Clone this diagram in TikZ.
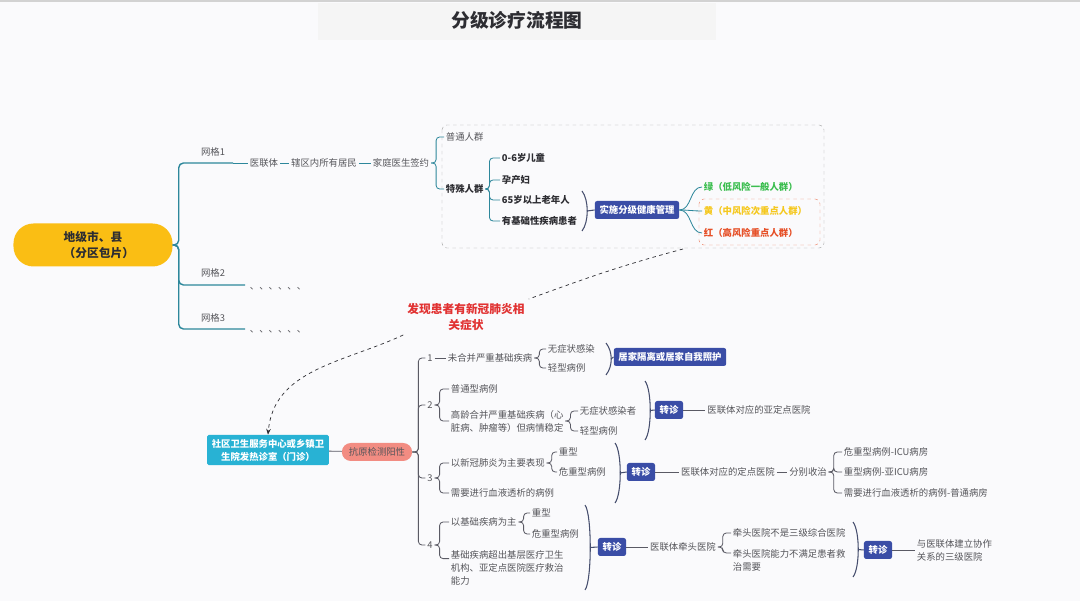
\documentclass[tikz,border=0pt]{standalone}
\usepackage{fontspec}
\setmainfont{Noto Sans CJK SC}
\usetikzlibrary{positioning,arrows.meta}
\definecolor{pagebg}{RGB}{250,250,252}
\definecolor{tealline}{RGB}{45,135,155}
\definecolor{textgray}{RGB}{85,85,90}
\definecolor{darktext}{RGB}{45,45,50}
\definecolor{linegray}{RGB}{90,90,100}
\definecolor{bracecol}{RGB}{70,78,110}
\definecolor{boxblue}{RGB}{58,77,166}
\definecolor{boxcyan}{RGB}{40,178,212}
\definecolor{boxpink}{RGB}{242,140,130}
\definecolor{rootyellow}{RGB}{250,190,20}
\definecolor{lvse}{RGB}{60,190,80}
\definecolor{huangse}{RGB}{245,200,30}
\definecolor{hongse}{RGB}{230,80,40}
\definecolor{alertred}{RGB}{225,50,50}
\newcommand{\sumbrace}[4]{\draw[bracel] (#1,#2) .. controls (#1+7,#2+9) and (#1+7,#3-9) .. (#1,#3);
					\coordinate (#4) at (#1+5,{(#2+#3)/2});}
\tikzset{
	txt/.style={font=\fontsize{8}{11}\selectfont, text=textgray, inner sep=1.5pt},
	btxt/.style={txt, text=darktext, font=\fontsize{8}{11}\selectfont\bfseries},
	lt/.style={txt, anchor=west, align=left},
	blt/.style={btxt, anchor=west, align=left},
	bluebox/.style={fill=boxblue, text=white, font=\fontsize{8}{11}\selectfont\bfseries, rounded corners=2pt, inner xsep=4pt, inner ysep=0pt, minimum height=0.54cm},
	tline/.style={draw=tealline, line width=1.2pt, rounded corners=4pt},
	tthin/.style={draw=tealline, line width=0.7pt, rounded corners=3pt},
	gline/.style={draw=linegray, line width=0.7pt, rounded corners=3pt},
	bracel/.style={draw=bracecol, line width=0.9pt},
	dline/.style={draw=darktext, line width=0.6pt, dashed}
}
\begin{document}
\begin{tikzpicture}[x=0.03cm,y=-0.03cm]
	\fill[pagebg] (0,0) rectangle (1080,601);
	\useasboundingbox (0,0) rectangle (1080,601);
	\fill[gray!35] (0,0) rectangle (1080,2);
	\fill[gray!8] (318,3) rectangle (716,40);
	\node[font=\fontsize{16}{18}\selectfont\bfseries, text=darktext] (title) at (517,20) {分级诊疗流程图};

	\node[fill=rootyellow, text=darktext, font=\fontsize{10}{14}\selectfont\bfseries, align=center, rounded corners=0.6cm, minimum width=4.77cm, minimum height=1.29cm] (root) at (93,245) {地级市、县\\\hspace{1em}（分区包片）};
	\coordinate (g1) at (233,163);
	\coordinate (g2) at (245,285);
	\coordinate (g3) at (245,329);
	\node[txt] (g1l) at (213,152) {网格1};
	\node[txt] (g2l) at (213,273) {网格2};
	\node[txt] (g3l) at (213,318) {网格3};
	\node[lt] (d2) at (248,289) {、、、、、、};
	\node[lt] (d3) at (248,332) {、、、、、、};
	\draw[tline] (root.east) -- ++(6,0) |- (g1);
	\draw[tline] (root.east) -- ++(6,0) |- (g2);
	\draw[tline] (root.east) -- ++(6,0) |- (g3);

	\draw[draw=gray!70, dashed, rounded corners=4pt] (442,125) rectangle (824,248);
	\node[txt] (ylt) at (264,163) {医联体};
	\node[txt] (xq) at (324,163) {辖区内所有居民};
	\node[txt] (qy) at (401,163) {家庭医生签约};
	\draw[tthin] (g1) -- (ylt);
	\draw[tthin] (ylt) -- (xq);
	\draw[tthin] (xq) -- (qy);
	\node[lt] (pt) at (444,137) {普通人群};
	\node[blt] (ts) at (444,189) {特殊人群};
	\draw[tthin] (qy.east) -- ++(5,0) |- (pt.west);
	\draw[tthin] (qy.east) -- ++(5,0) |- (ts.west);
	\node[blt] (c1) at (500,158) {0-6岁儿童};
	\node[blt] (c2) at (500,180) {孕产妇};
	\node[blt] (c3) at (500,200) {65岁以上老年人};
	\node[blt] (c4) at (500,221) {有基础性疾病患者};
	\foreach \c in {c1,c2,c3,c4}
		\draw[tthin] (ts.east) -- ++(4,0) |- (\c.west);
	\sumbrace{582}{191}{231}{b0}
	\node[bluebox] (ssgl) at (637,210) {实施分级健康管理};
	\draw[bracel] (b0) -- (ssgl.west);
	\node[blt, text=lvse] (lv) at (702,187) {绿（低风险一般人群）};
	\node[blt, text=huangse] (hu) at (702,211) {黄（中风险次重点人群）};
	\node[blt, text=hongse] (hong) at (702,233) {红（高风险重点人群）};
	\draw[draw=hongse!70, dashed, rounded corners=4pt] (699,199) rectangle (820,245);
	\foreach \c in {lv,hu,hong}
		\draw[tthin] (ssgl.east) to[out=0,in=180] (\c.west);

	\node[text=alertred, font=\fontsize{10}{14}\selectfont\bfseries, align=center] (fx) at (466,317) {发现患者有新冠肺炎相\\关症状};
	\coordinate (gb) at (683,249);
	\node[fill=boxcyan, text=white, font=\fontsize{8}{11}\selectfont\bfseries, align=center, rounded corners=1.5pt, inner xsep=4pt, inner ysep=3.5pt] (sq) at (268,450) {社区卫生服务中心或乡镇卫\\生院发热诊室（门诊）};
	\draw[dline] (gb) to[out=195,in=20] (fx.north east);
	\draw[dline, -{Stealth[length=5pt,width=4pt]}] (fx.south west) to[out=205,in=85] (sq.north);
	\node[fill=boxpink, text=textgray, font=\fontsize{8}{11}\selectfont, rounded corners=0.27cm, inner xsep=6pt, inner ysep=0pt, minimum height=0.54cm] (ky) at (377,452) {抗原检测阳性};
	\draw[gline] (sq) -- (ky);

	\node[txt] (n1) at (430,358) {1};
	\node[txt] (n2) at (430,405) {2};
	\node[txt] (n3) at (430,478) {3};
	\node[txt] (n4) at (430,545) {4};
	\foreach \n in {n1,n2,n3,n4}
		\draw[gline] (ky.east) -- ++(6,0) |- (\n.west);

	\node[lt] (wh) at (446,358) {未合并严重基础疾病};
	\draw[gline] (n1) -- (wh);
	\node[lt] (w1) at (546,349) {无症状感染};
	\node[lt] (q1) at (546,368) {轻型病例};
	\draw[gline] (wh.east) -- ++(5,0) |- (w1.west);
	\draw[gline] (wh.east) -- ++(5,0) |- (q1.west);
	\sumbrace{606}{343}{375}{b1}
	\node[bluebox] (jj) at (670,357) {居家隔离或居家自我照护};
	\draw[bracel] (b1) -- (jj.west);

	\node[lt] (pty) at (449,389) {普通型病例};
	\node[lt] (gl) at (449,421) {高龄合并严重基础疾病（心\\脏病、肿瘤等）但病情稳定};
	\draw[gline] (n2.east) -- ++(5,0) |- (pty.west);
	\draw[gline] (n2.east) -- ++(5,0) |- (gl.west);
	\node[lt] (w2) at (578,411) {无症状感染者};
	\node[lt] (q2) at (578,431) {轻型病例};
	\draw[gline] (gl.east) -- ++(5,0) |- (w2.west);
	\draw[gline] (gl.east) -- ++(5,0) |- (q2.west);
	\sumbrace{645}{381}{440}{b2}
	\node[bluebox] (zz2) at (669,410) {转诊};
	\draw[bracel] (b2) -- (zz2.west);
	\node[txt] (yd) at (759,410) {医联体对应的亚定点医院};
	\draw[gline] (zz2) -- (yd);

	\node[lt] (xg) at (449,463) {以新冠肺炎为主要表现};
	\node[lt] (xy) at (449,493) {需要进行血液透析的病例};
	\draw[gline] (n3.east) -- ++(5,0) |- (xg.west);
	\draw[gline] (n3.east) -- ++(5,0) |- (xy.west);
	\node[lt] (zx3) at (557,452) {重型};
	\node[lt] (wz3) at (557,472) {危重型病例};
	\draw[gline] (xg.east) -- ++(5,0) |- (zx3.west);
	\draw[gline] (xg.east) -- ++(5,0) |- (wz3.west);
	\sumbrace{615}{443}{503}{b3}
	\node[bluebox] (zz3) at (641,472) {转诊};
	\draw[bracel] (b3) -- (zz3.west);
	\node[txt] (dd) at (728,472) {医联体对应的定点医院};
	\node[txt] (fb) at (808,472) {分别收治};
	\draw[gline] (zz3) -- (dd);
	\draw[gline] (dd) -- (fb);
	\node[lt] (icu) at (842,452) {危重型病例-ICU病房};
	\node[lt] (yicu) at (842,472) {重型病例-亚ICU病房};
	\node[lt] (pt2) at (842,493) {需要进行血液透析的病例-普通病房};
	\foreach \c in {icu,yicu,pt2}
		\draw[gline] (fb.east) -- ++(5,0) |- (\c.west);

	\node[lt] (jc) at (449,522) {以基础疾病为主};
	\node[lt] (cc) at (449,568) {基础疾病超出基层医疗卫生\\机构、亚定点医院医疗救治\\能力};
	\draw[gline] (n4.east) -- ++(5,0) |- (jc.west);
	\draw[gline] (n4.east) -- ++(5,0) |- ([yshift=8pt]cc.west);
	\node[lt] (zx4) at (530,513) {重型};
	\node[lt] (wz4) at (530,534) {危重型病例};
	\draw[gline] (jc.east) -- ++(5,0) |- (zx4.west);
	\draw[gline] (jc.east) -- ++(5,0) |- (wz4.west);
	\sumbrace{585}{505}{590}{b4}
	\node[bluebox] (zz4) at (612,547) {转诊};
	\draw[bracel] (b4) -- (zz4.west);
	\node[txt] (qt) at (683,547) {医联体牵头医院};
	\draw[gline] (zz4) -- (qt);
	\node[lt] (bs) at (731,533) {牵头医院不是三级综合医院};
	\node[lt] (nl) at (731,560) {牵头医院能力不满足患者救\\治需要};
	\draw[gline] (qt.east) -- ++(5,0) |- (bs.west);
	\draw[gline] (qt.east) -- ++(5,0) |- ([yshift=6pt]nl.west);
	\sumbrace{853}{522}{577}{b5}
	\node[bluebox] (zz5) at (878,550) {转诊};
	\draw[bracel] (b5) -- (zz5.west);
	\node[lt] (sj) at (915,550) {与医联体建立协作\\关系的三级医院};
	\draw[gline] (zz5) -- (sj);
\end{tikzpicture}
\end{document}
